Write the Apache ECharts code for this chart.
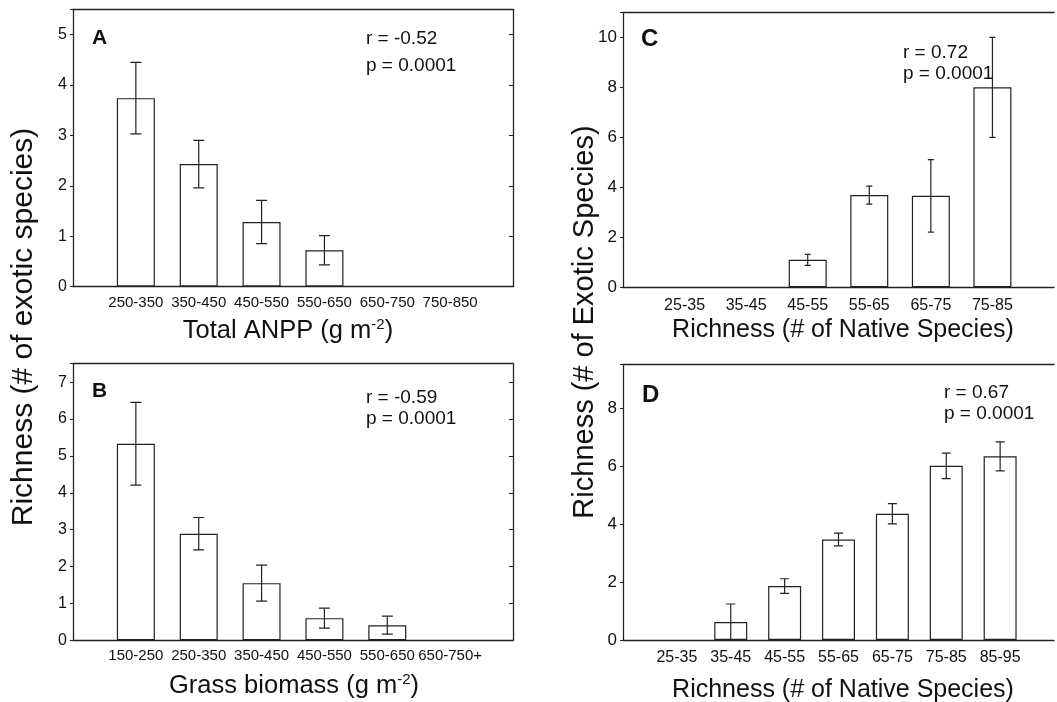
<!DOCTYPE html>
<html>
<head>
<meta charset="utf-8">
<script src="https://cdn.jsdelivr.net/npm/echarts@6/dist/echarts.min.js"></script>
<style>
  html, body { margin: 0; padding: 0; background: #fff; }
  #chart { width: 1057px; height: 702px; }
</style>
</head>
<body>
<div id="chart"></div>
<script>
// Panel A: exotic richness by total ANPP class
const anppClasses = ['250-350', '350-450', '450-550', '550-650', '650-750', '750-850'];
const anppMean = [3.74, 2.43, 1.28, 0.72, null, null];
const anppSE = [0.71, 0.47, 0.43, 0.29, null, null];

// Panel B: exotic richness by grass biomass class
const grassClasses = ['150-250', '250-350', '350-450', '450-550', '550-650', '650-750+'];
const grassMean = [5.33, 2.89, 1.55, 0.60, 0.41, null];
const grassSE = [1.12, 0.44, 0.49, 0.27, 0.245, null];

// Panel C: exotic richness by native richness class
const nativeClassesC = ['25-35', '35-45', '45-55', '55-65', '65-75', '75-85'];
const nativeMeanC = [null, null, 1.10, 3.69, 3.66, 8.0];
const nativeSEC = [null, null, 0.22, 0.36, 1.45, 2.0];

// Panel D: exotic richness by native richness class
const nativeClassesD = ['25-35', '35-45', '45-55', '55-65', '65-75', '75-85', '85-95'];
const nativeMeanD = [null, 0.62, 1.86, 3.46, 4.35, 6.0, 6.33];
const nativeSED = [null, 0.62, 0.25, 0.22, 0.35, 0.44, 0.5];

const INK = '#222';
const FONT = 'Liberation Sans, Arial, sans-serif';

const panels = [
  { cats: anppClasses, mean: anppMean, se: anppSE, grid: { left: 73, top: 9.5, width: 440, height: 277 },
    yMax: 5.5, yStep: 1, barW: 38, cap: 11, tickFont: 15, yFont: 16, xMargin: 9, rightAxis: true },
  { cats: grassClasses, mean: grassMean, se: grassSE, grid: { left: 73, top: 363.7, width: 440, height: 276.6 },
    yMax: 7.5, yStep: 1, barW: 38, cap: 11, tickFont: 15, yFont: 16, xMargin: 8, rightAxis: true },
  { cats: nativeClassesC, mean: nativeMeanC, se: nativeSEC, grid: { left: 623, top: 12.3, width: 441, height: 275 },
    yMax: 11, yStep: 2, barW: 38, cap: 6, tickFont: 16, yFont: 17, xMargin: 10, rightAxis: false },
  { cats: nativeClassesD, mean: nativeMeanD, se: nativeSED, grid: { left: 623, top: 364.3, width: 441, height: 275.7 },
    yMax: 9.5, yStep: 2, barW: 33, cap: 9, tickFont: 16, yFont: 17, xMargin: 10, rightAxis: false }
];

const grid = [], xAxis = [], yAxis = [], series = [];

panels.forEach((p, i) => {
  grid.push(Object.assign({ containLabel: false }, p.grid));
  const n = p.cats.length;
  // bottom class axis (value scale so the frame starts one band before the first class)
  xAxis.push({
    type: 'value', gridIndex: i, min: -1, max: n, interval: 1,
    splitLine: { show: false }, axisTick: { show: false },
    axisLine: { onZero: false, lineStyle: { color: INK, width: 1.3 } },
    axisLabel: {
      color: '#111', fontFamily: FONT, fontSize: p.tickFont, margin: p.xMargin,
      showMinLabel: true, showMaxLabel: true,
      formatter: v => (Number.isInteger(v) && v >= 0 && v < n) ? p.cats[v] : ''
    }
  });
  // top frame line
  xAxis.push({
    type: 'value', gridIndex: i, position: 'top', min: -1, max: n,
    splitLine: { show: false }, axisTick: { show: false }, axisLabel: { show: false },
    axisLine: { onZero: false, lineStyle: { color: INK, width: 1.3 } }
  });
  yAxis.push({
    type: 'value', gridIndex: i, min: 0, max: p.yMax, interval: p.yStep,
    splitLine: { show: false },
    axisLine: { show: true, onZero: false, lineStyle: { color: INK, width: 1.3 } },
    axisTick: { show: true, length: 3, lineStyle: { color: INK } },
    axisLabel: {
      color: '#111', fontFamily: FONT, fontSize: p.yFont, margin: 6,
      formatter: v => Number.isInteger(v / p.yStep) && v <= p.yMax ? String(v) : ''
    }
  });
  yAxis.push({
    type: 'value', gridIndex: i, position: 'right', min: 0, max: p.yMax, interval: p.yStep,
    show: p.rightAxis,
    splitLine: { show: false },
    axisLine: { show: true, onZero: false, lineStyle: { color: INK, width: 1.3 } },
    axisTick: { show: true, inside: true, length: 4, lineStyle: { color: INK } },
    axisLabel: { show: false }
  });

  const barData = p.mean.map((v, k) => v == null ? null : [k, v]).filter(d => d);
  const errData = p.mean.map((v, k) => v == null ? null : [k, v, p.se[k]]).filter(d => d);

  series.push({
    type: 'bar', xAxisIndex: 2 * i, yAxisIndex: 2 * i, barWidth: p.barW, z: 2,
    data: barData, silent: true, animation: false,
    itemStyle: { color: '#fff', borderColor: INK, borderWidth: 1.2 }
  });
  // standard-error whiskers drawn above the bars
  series.push({
    type: 'custom', xAxisIndex: 2 * i, yAxisIndex: 2 * i, data: errData, animation: false, silent: true,
    z: 5, clip: true,
    renderItem: (params, api) => {
      const x = api.value(0), v = api.value(1), e = api.value(2);
      const hi = api.coord([x, v + e]);
      const lo = api.coord([x, Math.max(0, v - e)]);
      const h = p.cap / 2;
      const atZero = v - e <= 0;
      const kids = [
        { type: 'line', shape: { x1: hi[0], y1: hi[1], x2: lo[0], y2: lo[1] } },
        { type: 'line', shape: { x1: hi[0] - h, y1: hi[1], x2: hi[0] + h, y2: hi[1] } }
      ];
      if (!atZero) kids.push({ type: 'line', shape: { x1: lo[0] - h, y1: lo[1], x2: lo[0] + h, y2: lo[1] } });
      return { type: 'group', children: kids.map(k => Object.assign(k, { z2: 10, style: { stroke: INK, lineWidth: 1.2 } })) };
    }
  });
});

const sup = { fontSize: 15, verticalAlign: 'top', padding: [0, 0, 12, 0], fontFamily: FONT, fill: '#111' };
function title(x, y, parts, size, rotation) {
  return {
    type: 'text', x: x, y: y, rotation: rotation || 0,
    style: {
      text: parts, fontFamily: FONT, fontSize: size, fill: '#111',
      align: 'center', verticalAlign: 'middle',
      rich: { a: { fontSize: size, fontFamily: FONT, fill: '#111' }, s: sup }
    }
  };
}
function txt(x, y, s, size, bold) {
  return {
    type: 'text', x: x, y: y,
    style: { text: s, fontFamily: FONT, fontSize: size, fontWeight: bold ? 'bold' : 'normal',
             fill: '#111', align: 'left', verticalAlign: 'middle' }
  };
}

const graphic = [
  txt(92, 38, 'A', 21, true),
  txt(366, 39, 'r = -0.52', 19), txt(366, 65.5, 'p = 0.0001', 19),
  txt(92, 391, 'B', 21, true),
  txt(366, 398, 'r = -0.59', 19), txt(366, 418.5, 'p = 0.0001', 19),
  txt(641, 39, 'C', 24, true),
  txt(903, 52.5, 'r = 0.72', 19), txt(903, 73.5, 'p = 0.0001', 19),
  txt(642, 395, 'D', 24, true),
  txt(944, 393, 'r = 0.67', 19), txt(944, 413.5, 'p = 0.0001', 19),
  title(288, 331, '{a|Total ANPP (g m}{s|-2}{a|)}', 25.5),
  title(294, 686, '{a|Grass biomass (g m}{s|-2}{a|)}', 25.5),
  title(843, 330, '{a|Richness (# of Native Species)}', 25),
  title(843, 690, '{a|Richness (# of Native Species)}', 25),
  title(24, 327, '{a|Richness (# of exotic species)}', 30, Math.PI / 2),
  title(585, 322, '{a|Richness (# of Exotic Species)}', 29, Math.PI / 2)
];

const chart = echarts.init(document.getElementById('chart'), null, { renderer: 'canvas' });
chart.setOption({
  animation: false,
  backgroundColor: '#fff',
  grid, xAxis, yAxis, series, graphic
});
</script>
</body>
</html>
